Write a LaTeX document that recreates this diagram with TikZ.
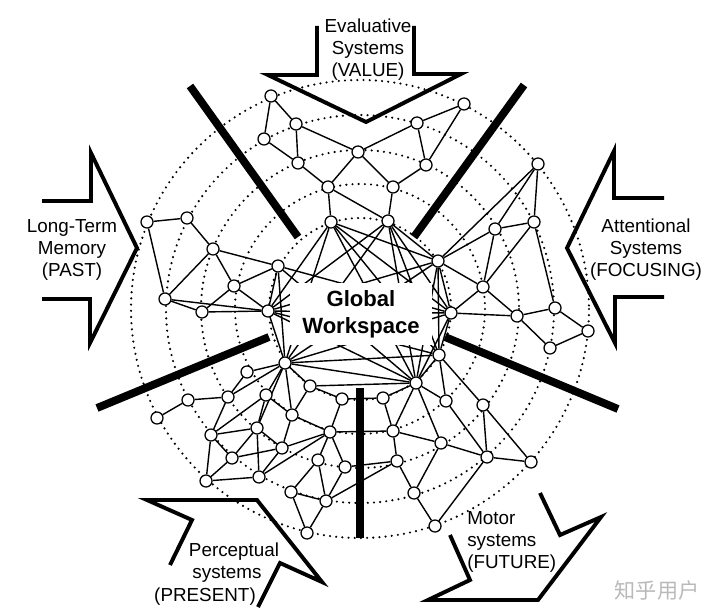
\documentclass[tikz,border=0pt]{standalone}
\usepackage{fontspec}
\setmainfont{Liberation Sans}
\newfontfamily\cjk{Noto Sans CJK SC}
\usetikzlibrary{backgrounds}

\tikzset{
  unit/.style={circle, draw, fill=white, minimum size=0.3cm, inner sep=0pt, line width=0.9pt},
  link/.style={line width=1pt},
  ring/.style={line width=1.7pt, line cap=round, dash pattern=on 0pt off 4.4pt},
  barrier/.style={line width=5.6pt},
  chevron/.style={line width=2.8pt, line join=miter},
  lbl/.style={font=\fontsize{13.4}{15.6}\selectfont, align=center, inner sep=0pt},
}

\begin{document}
\begin{tikzpicture}[x=0.025cm, y=-0.025cm]
	\useasboundingbox (0,0) rectangle (720,615);
	\coordinate (hub) at (360,309);
	% network units
	\foreach \n/\x/\y in {t1/271/96, t2/296/124, t3/264/139, t4/298/163, t5/358/152, t6/328/187, t7/331/222,
			t8/417/123, t9/464/104, t10/426/165, t11/393/187, t12/388/221,
			r1/538/164, r2/534/222, r3/495/229, r4/438/261, r5/483/287, r6/555/308, r7/517/316, r8/451/313, r9/588/331, r10/550/348,
			l1/147/222, l2/187/218, l3/213/249, l4/278/266, l5/234/286, l6/165/299, l7/202/312, l8/268/311,
			p1/285/363, p2/247/372, p3/310/386, p4/342/399, p5/228/397, p6/266/395, p7/188/400, p8/157/418,
			p9/292/415, p10/257/428, p11/211/435, p12/330/432, p13/282/448, p14/232/458, p15/318/460,
			p16/345/467, p17/206/481, p18/259/477, p19/291/492, p20/326/501, p21/307/533,
			m1/439/355, m2/416/383, m3/383/398, m4/446/401, m5/483/405, m6/393/431, m7/441/443,
			m8/487/457, m9/531/462, m10/397/461, m11/414/493, m12/435/526}
		\node[unit] (\n) at (\x,\y) {};
	\begin{scope}[on background layer]
		\foreach \r in {91,125,159,194,229} \draw[ring] (hub) circle (\r);
		% local links
		\foreach \a/\b in {t1/t2, t1/t3, t3/t4, t2/t4, t2/t5, t4/t6, t5/t6, t6/t7, t5/t8, t5/t11, t6/t12,
				t8/t9, t8/t10, t9/t10, t10/t11, t11/t12,
				r1/r2, r1/r3, r1/r4, r2/r3, r3/r4, r3/r5, r2/r5, r4/r5, r2/r6, r5/r7, r6/r7, r6/r9, r9/r10, r7/r10, r7/r8, r5/r8,
				l1/l2, l1/l6, l2/l3, l3/l6, l3/l4, l3/l5, l4/l5, l5/l7, l5/l8, l6/l7, l6/l8, l7/l8, l4/l8,
				p1/p2, p1/p5, p1/p6, p1/p10, p1/p9, p1/p3, p2/p5, p5/p7, p7/p8, p5/p11, p6/p10, p6/p9, p6/p11,
				p11/p10, p11/p14, p11/p17, p10/p13, p10/p14, p10/p18, p9/p3, p9/p12, p9/p13, p13/p18, p13/p14,
				p13/p12, p14/p17, p17/p18, p18/p12, p3/p4, p4/p12, p12/p15, p12/p16, p15/p19, p15/p20, p16/p20,
				p19/p20, p19/p21, p20/p21,
				m1/m4, m1/m5, m2/m3, m2/m4, m2/m6, m2/m7, m3/m6, m6/m7, m6/m10, m4/m8, m7/m8, m5/m8, m5/m9,
				m8/m9, m7/m11, m10/m11, m11/m12, m8/m12,
				p4/m3, p12/m6, p16/m10, p20/m10, p3/m2}
			\draw[link] (\a) -- (\b);
		% long-range links through the workspace
		\foreach \a/\b in {t7/r4, t7/r8, t7/m1, t7/m2, t7/p1, t7/l8,
				t12/r4, t12/r8, t12/m1, t12/m2, t12/p1, t12/l8,
				r4/r8, r4/m1, r4/m2, r4/p1, r4/l8, r8/m1, r8/m2, r8/p1, r8/l8,
				m1/m2, m1/p1, m1/l8, m2/p1, m2/l8, p1/l8, l4/p1, l4/m2, l4/r8}
			\draw[link] (\a) -- (\b);
	\end{scope}
	\node[fill=white, minimum width=3.55cm, minimum height=1.55cm, align=center,
		font=\bfseries\fontsize{15.7}{19}\selectfont] (gw) at (361,314) {Global\\Workspace};
	% barriers
	\draw[barrier] (190,86) -- (298,237);
	\draw[barrier] (524,85) -- (414,237);
	\draw[barrier] (445,337) -- (618,409);
	\draw[barrier] (360,388) -- (360,538);
	\draw[barrier] (269,337) -- (97,408);
	% input and output arrows
	\draw[chevron] (317,26) -- (317,75) -- (268,75) -- (366,122) -- (461,74) -- (414,74) -- (414,26);
	\draw[chevron] (664,198) -- (614,198) -- (614,151) -- (567,248) -- (615,343) -- (615,297) -- (664,297);
	\draw[chevron] (42,201) -- (91,201) -- (91,153) -- (137,248) -- (90,343) -- (90,299) -- (42,299);
	\draw[chevron] (170,565) -- (192,520) -- (147,500) -- (257,500) -- (322,582) -- (280,563) -- (258,607);
	\draw[chevron] (540,493) -- (560,535) -- (601,517) -- (538,600) -- (428,600) -- (470,580) -- (450,535);
	% labels
	\node[lbl] (value) at (368,50) {Evaluative\\Systems\\(VALUE)};
	\node[lbl] (past) at (72,250) {Long-Term\\Memory\\(PAST)};
	\node[lbl] (focus) at (646,250) {Attentional\\Systems\\(FOCUSING)};
	\node[lbl, align=left, anchor=west] (future) at (467,542) {Motor\\systems\\(FUTURE)};
	\node[lbl] (present1) at (234,552) {Perceptual};
	\node[lbl] (present2) at (227,574) {systems};
	\node[lbl] (present3) at (205,597) {(PRESENT)};
	\node[text=gray!55, font=\cjk\fontsize{15}{15}\selectfont] (mark) at (657,590) {知乎用户};
\end{tikzpicture}
\end{document}
